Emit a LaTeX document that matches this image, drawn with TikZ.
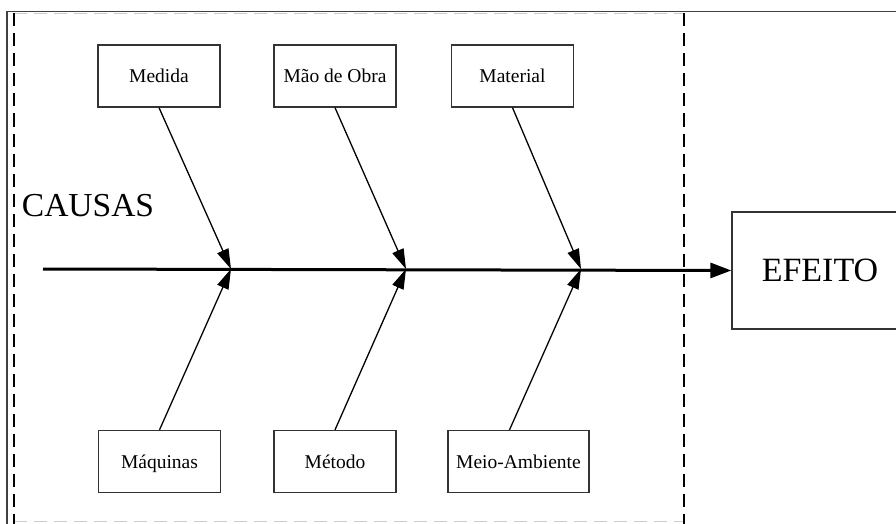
\documentclass[tikz,border=0pt]{standalone}
\usepackage{fontspec}
\setmainfont{Liberation Serif}
\usetikzlibrary{arrows.meta}
\begin{document}
\begin{tikzpicture}[x=1pt,y=-1pt,
  causebox/.style={draw=black!80,line width=1.3pt,minimum width=122pt,minimum height=62pt,inner sep=0pt,
     text height=16pt,text depth=2pt,font=\fontsize{19.5}{23}\selectfont},
  bone/.style={line width=1.3pt,-{Triangle[length=20pt,width=12pt]}},
  spine/.style={line width=3pt,-{Triangle[length=21pt,width=15pt]}},
  frame/.style={line width=1.4pt,dash pattern=on 13pt off 7pt}]
\useasboundingbox (0,0) rectangle (896,524);
\fill[white] (0,0) rectangle (896,524);
% outer solid lines
\draw[black!75,line width=1.2pt] (7,524) -- (7,11.5) -- (896,11.5);
% dashed frame
\draw[frame,black!20] (14,13.5) -- (684,13.5);
\draw[frame,black!20] (14,521.5) -- (684,521.5);
\draw[frame] (14,13.5) -- (14,524);
\draw[frame] (684,13.5) -- (684,524);
% boxes
\node[causebox] (medida) at (159,76) {Medida};
\node[causebox] (mao) at (335,76) {Mão de Obra};
\node[causebox] (material) at (512.5,76) {Material};
\node[causebox] (maquinas) at (159.5,461.5) {Máquinas};
\node[causebox] (metodo) at (335,461.5) {Método};
\node[causebox,minimum width=141pt] (meio) at (518.5,461.5) {Meio-Ambiente};
\node[draw=black!80,line width=1.3pt,minimum width=176pt,minimum height=117pt,inner sep=0pt,
  font=\fontsize{34}{40}\selectfont] (efeito) at (820,270.5) {EFEITO};
\node[font=\fontsize{33.5}{40}\selectfont,inner sep=0pt] (causas) at (88,206) {CAUSAS};
% spine
\coordinate (s0) at (43,269);
\coordinate (j1) at (231,269);
\coordinate (j2) at (406,269);
\coordinate (j3) at (581,269);
\draw[spine] (s0) -- (efeito.west);
% bones
\draw[bone] (medida.south) -- (j1);
\draw[bone] (mao.south) -- (j2);
\draw[bone] (material.south) -- (j3);
\draw[bone] (maquinas.north) -- (j1);
\draw[bone] (metodo.north) -- (j2);
\draw[bone] ([xshift=-9pt]meio.north) -- (j3);
\end{tikzpicture}
\end{document}
